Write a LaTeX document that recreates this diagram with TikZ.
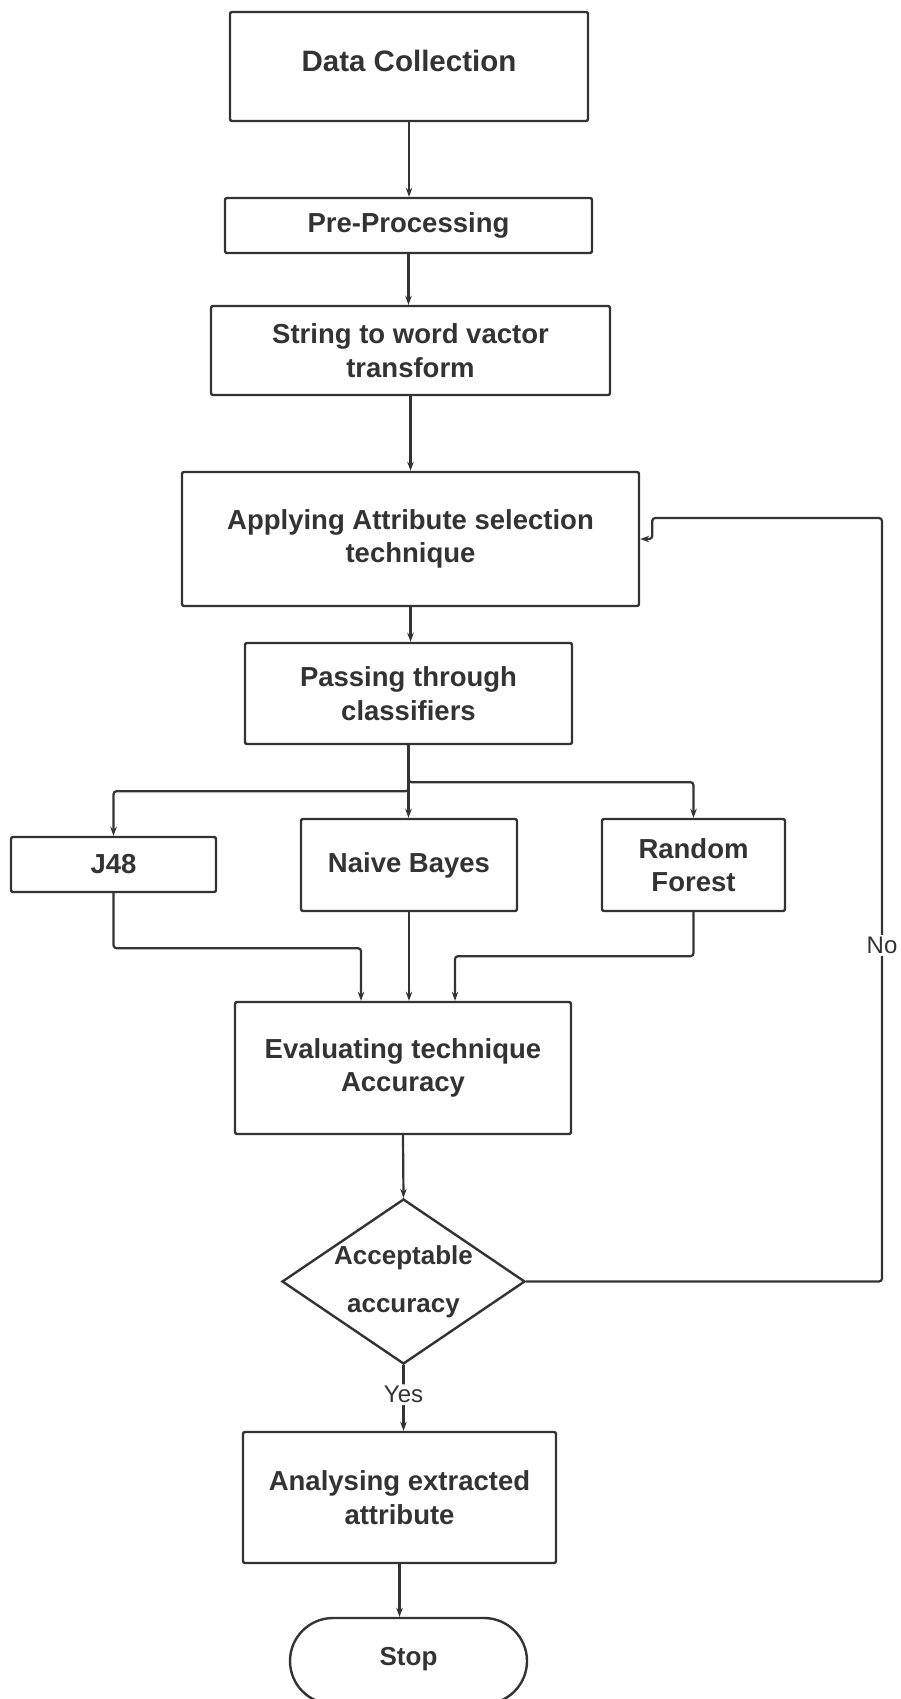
\documentclass[tikz,border=0pt]{standalone}
\usepackage{fontspec}
\setmainfont{Liberation Sans}
\usetikzlibrary{shapes.geometric,shapes.misc,arrows.meta}
\definecolor{ink}{HTML}{333333}

\begin{document}
\begin{tikzpicture}[x=1pt, y=-1pt,
    every node/.style={text=ink},
    box/.style={draw=ink, line width=2.4pt, rounded corners=2pt, align=center,
      inner sep=0pt, font=\bfseries\fontsize{27.5}{33.5}\selectfont},
    decision/.style={draw=ink, line width=2.4pt, diamond, inner sep=0pt},
    terminal/.style={draw=ink, line width=2.4pt, rounded rectangle, inner sep=0pt,
      font=\bfseries\fontsize{26}{30}\selectfont},
    flow/.style={draw=ink, line width=2.2pt, rounded corners=3pt,
      -{Stealth[length=9pt,width=6.5pt]}},
    lbl/.style={fill=white, inner sep=2pt, font=\fontsize{24}{28}\selectfont}]
  \useasboundingbox (0,0) rectangle (901,1699);

  \node[box, minimum width=358pt, minimum height=109pt, font=\bfseries\fontsize{29.5}{34}\selectfont,
    text depth=12pt] (dc) at (409,66.5) {Data Collection};
  \node[box, minimum width=367pt, minimum height=55pt] (pp) at (408.5,225.5) {Pre-Processing};
  \node[box, minimum width=399pt, minimum height=89pt] (sw) at (410.5,350.5) {String to word vactor\\transform};
  \node[box, minimum width=457pt, minimum height=134pt] (as) at (410.5,539) {Applying Attribute selection\\technique};
  \node[box, minimum width=327pt, minimum height=101pt] (pc) at (408.5,693.5) {Passing through\\classifiers};
  \node[box, minimum width=205pt, minimum height=55pt] (j48) at (113.5,864.5) {J48};
  \node[box, minimum width=216pt, minimum height=92pt] (nb) at (409,865) {Naive Bayes};
  \node[box, minimum width=183pt, minimum height=92pt] (rf) at (693.5,865) {Random\\Forest};
  \node[box, minimum width=336pt, minimum height=132pt] (ev) at (403,1068) {Evaluating technique\\Accuracy};
  \node[decision, minimum width=243pt, minimum height=165pt,
    label={[align=center, font=\bfseries\fontsize{26}{48}\selectfont]center:{Acceptable\\accuracy}}]
    (dec) at (403.5,1281.5) {};
  \node[box, minimum width=313pt, minimum height=131pt] (an) at (399.5,1497.5) {Analysing extracted\\attribute};
  \node[terminal, minimum width=237pt, minimum height=86pt, text depth=10pt] (stop) at (408.5,1661) {Stop};
  \coordinate (back) at (882,518);

  \draw[flow] (dc.south) -- (dc.south |- pp.north);
  \draw[flow] (pp.south) -- (pp.south |- sw.north);
  \draw[flow] (sw.south) -- (sw.south |- as.north);
  \draw[flow] (as.south) -- (as.south |- pc.north);
  \draw[flow] (pc.south) -- (pc.south |- nb.north);
  \draw[flow] (pc.south) -- ++(0,46) -| (j48.north);
  \draw[flow] (pc.south) -- ++(0,37) -| (rf.north);
  \draw[flow] (j48.south) -- ++(0,55) -| ([xshift=-42pt]ev.north);
  \draw[flow] (nb.south) -- (nb.south |- ev.north);
  \draw[flow] (rf.south) -- ++(0,44) -| ([xshift=52pt]ev.north);
  \draw[flow] (ev.south) -- (dec.north);
  \draw[flow] (dec.east) -| node[lbl, pos=0.72] {No} (back) -| ([xshift=12pt]as.east) -- (as.east);
  \draw[flow] (dec.south) -- node[lbl, pos=0.45] {Yes} (dec.south |- an.north);
  \draw[flow] (an.south) -- (an.south |- stop.north);
\end{tikzpicture}
\end{document}
